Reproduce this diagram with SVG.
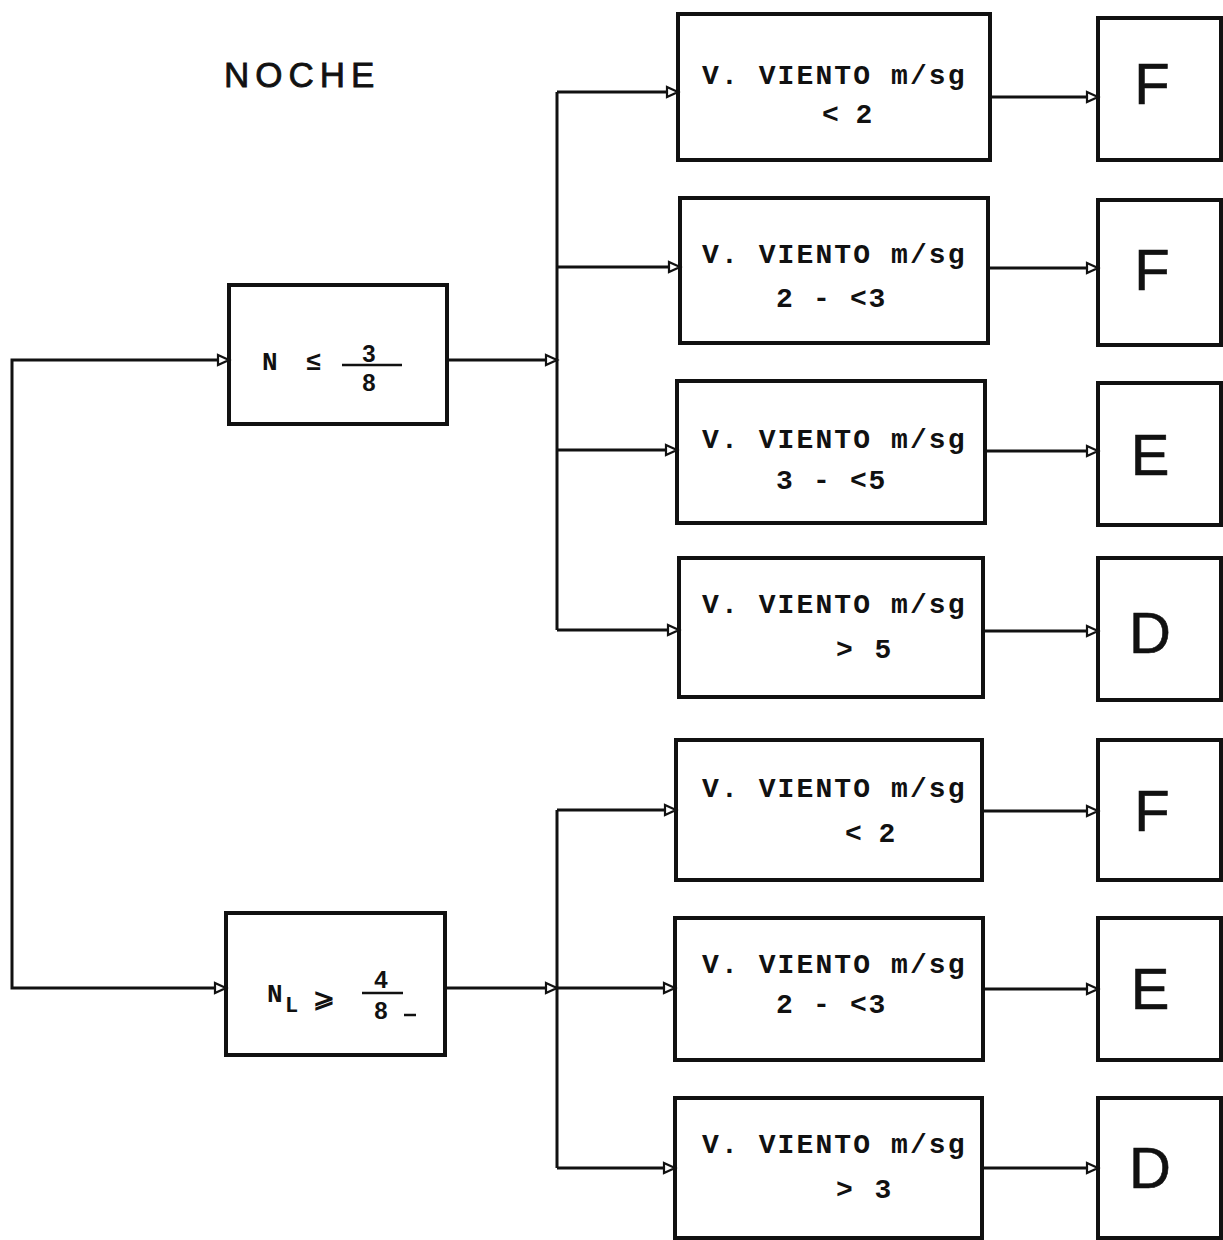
<svg xmlns="http://www.w3.org/2000/svg" width="1223" height="1240" viewBox="0 0 1223 1240">
<defs>
<style>
.box{fill:none;stroke:#111;stroke-width:4}
.con{fill:none;stroke:#111;stroke-width:3}
.mono{font-family:"Liberation Mono","DejaVu Sans Mono",monospace;font-weight:bold;fill:#111}
.l1{font-size:28px;letter-spacing:2.1px}
.l2{font-size:28px;letter-spacing:1.7px}
.big{font-family:"Liberation Sans",Arial,sans-serif;font-size:58px;fill:#111;text-anchor:middle;stroke:#111;stroke-width:0.6}
.frac{font-family:"Liberation Sans",Arial,sans-serif;font-weight:bold;font-size:24px;fill:#111;text-anchor:middle}
</style>
<marker id="ah" markerUnits="userSpaceOnUse" markerWidth="16" markerHeight="14" refX="13" refY="7" orient="auto">
<path d="M2,2 L13,7 L2,12 Z" fill="#fff" stroke="#111" stroke-width="2.2"/>
</marker>
</defs>
<rect width="1223" height="1240" fill="#fff"/>
<text x="224" y="87" font-family="Liberation Sans,Arial,sans-serif" font-size="35" letter-spacing="6" fill="#111" stroke="#111" stroke-width="0.8">NOCHE</text>

<g id="connectors">
<path class="con" d="M12,673 V360 H229" marker-end="url(#ah)"/>
<path class="con" d="M12,673 V988 H226" marker-end="url(#ah)"/>
<path class="con" d="M448,360 H557" marker-end="url(#ah)"/>
<path class="con" d="M446,988 H557" marker-end="url(#ah)"/>
<path class="con" d="M557,92 V630"/>
<path class="con" d="M557,810 V1168"/>
<path class="con" d="M557,92 H678" marker-end="url(#ah)"/>
<path class="con" d="M557,267 H680" marker-end="url(#ah)"/>
<path class="con" d="M557,450 H677" marker-end="url(#ah)"/>
<path class="con" d="M557,630 H679" marker-end="url(#ah)"/>
<path class="con" d="M557,810 H676" marker-end="url(#ah)"/>
<path class="con" d="M557,988 H675" marker-end="url(#ah)"/>
<path class="con" d="M557,1168 H675" marker-end="url(#ah)"/>
<path class="con" d="M990,97 H1098" marker-end="url(#ah)"/>
<path class="con" d="M988,268 H1098" marker-end="url(#ah)"/>
<path class="con" d="M985,451 H1098" marker-end="url(#ah)"/>
<path class="con" d="M983,631 H1098" marker-end="url(#ah)"/>
<path class="con" d="M982,811 H1098" marker-end="url(#ah)"/>
<path class="con" d="M983,989 H1098" marker-end="url(#ah)"/>
<path class="con" d="M982,1168 H1098" marker-end="url(#ah)"/>
</g>

<g id="nodeA">
<rect class="box" x="229" y="285" width="218" height="139"/>
<text class="mono" x="262" y="370" font-size="26">N</text>
<text class="mono" x="306" y="370" font-size="26">≤</text>
<line x1="342" y1="365" x2="402" y2="365" stroke="#111" stroke-width="2.5"/>
<text class="frac" x="369" y="362">3</text>
<text class="frac" x="369" y="391">8</text>
</g>

<g id="nodeB">
<rect class="box" x="226" y="913" width="219" height="142"/>
<text class="mono" x="267" y="1002" font-size="26">N</text>
<text class="mono" x="285" y="1012" font-size="22">L</text>
<text class="mono" x="313" y="1007" font-size="26">⩾</text>
<line x1="362" y1="993" x2="403" y2="993" stroke="#111" stroke-width="2.5"/>
<text class="frac" x="381" y="988">4</text>
<text class="frac" x="381" y="1019">8</text>
<line x1="404" y1="1015" x2="416" y2="1015" stroke="#111" stroke-width="2.5"/>
</g>

<g id="v1">
<rect class="box" x="678" y="14" width="312" height="146"/>
<text class="mono l1" x="702" y="84">V. VIENTO m/sg</text>
<text class="mono" font-size="28" x="822" y="123">&lt; 2</text>
</g>
<g id="v2">
<rect class="box" x="680" y="198" width="308" height="145"/>
<text class="mono l1" x="702" y="263">V. VIENTO m/sg</text>
<text class="mono l2" x="776" y="307">2 - &lt;3</text>
</g>
<g id="v3">
<rect class="box" x="677" y="381" width="308" height="142"/>
<text class="mono l1" x="702" y="448">V. VIENTO m/sg</text>
<text class="mono l2" x="776" y="489">3 - &lt;5</text>
</g>
<g id="v4">
<rect class="box" x="679" y="558" width="304" height="139"/>
<text class="mono l1" x="702" y="613">V. VIENTO m/sg</text>
<text class="mono" font-size="28" letter-spacing="2.5" x="836" y="658">&gt; 5</text>
</g>
<g id="v5">
<rect class="box" x="676" y="740" width="306" height="140"/>
<text class="mono l1" x="702" y="797">V. VIENTO m/sg</text>
<text class="mono" font-size="28" x="845" y="842">&lt; 2</text>
</g>
<g id="v6">
<rect class="box" x="675" y="918" width="308" height="142"/>
<text class="mono l1" x="702" y="973">V. VIENTO m/sg</text>
<text class="mono l2" x="776" y="1013">2 - &lt;3</text>
</g>
<g id="v7">
<rect class="box" x="675" y="1098" width="307" height="140"/>
<text class="mono l1" x="702" y="1153">V. VIENTO m/sg</text>
<text class="mono" font-size="28" letter-spacing="2.5" x="836" y="1198">&gt; 3</text>
</g>

<g id="r1"><rect class="box" x="1098" y="18" width="123" height="142"/><text class="big" x="1152" y="104">F</text></g>
<g id="r2"><rect class="box" x="1098" y="200" width="123" height="145"/><text class="big" x="1152" y="290">F</text></g>
<g id="r3"><rect class="box" x="1098" y="383" width="123" height="142"/><text class="big" x="1150" y="475">E</text></g>
<g id="r4"><rect class="box" x="1098" y="558" width="123" height="142"/><text class="big" x="1150" y="653">D</text></g>
<g id="r5"><rect class="box" x="1098" y="740" width="123" height="140"/><text class="big" x="1152" y="831">F</text></g>
<g id="r6"><rect class="box" x="1098" y="918" width="123" height="142"/><text class="big" x="1150" y="1009">E</text></g>
<g id="r7"><rect class="box" x="1098" y="1098" width="123" height="140"/><text class="big" x="1150" y="1188">D</text></g>
</svg>
